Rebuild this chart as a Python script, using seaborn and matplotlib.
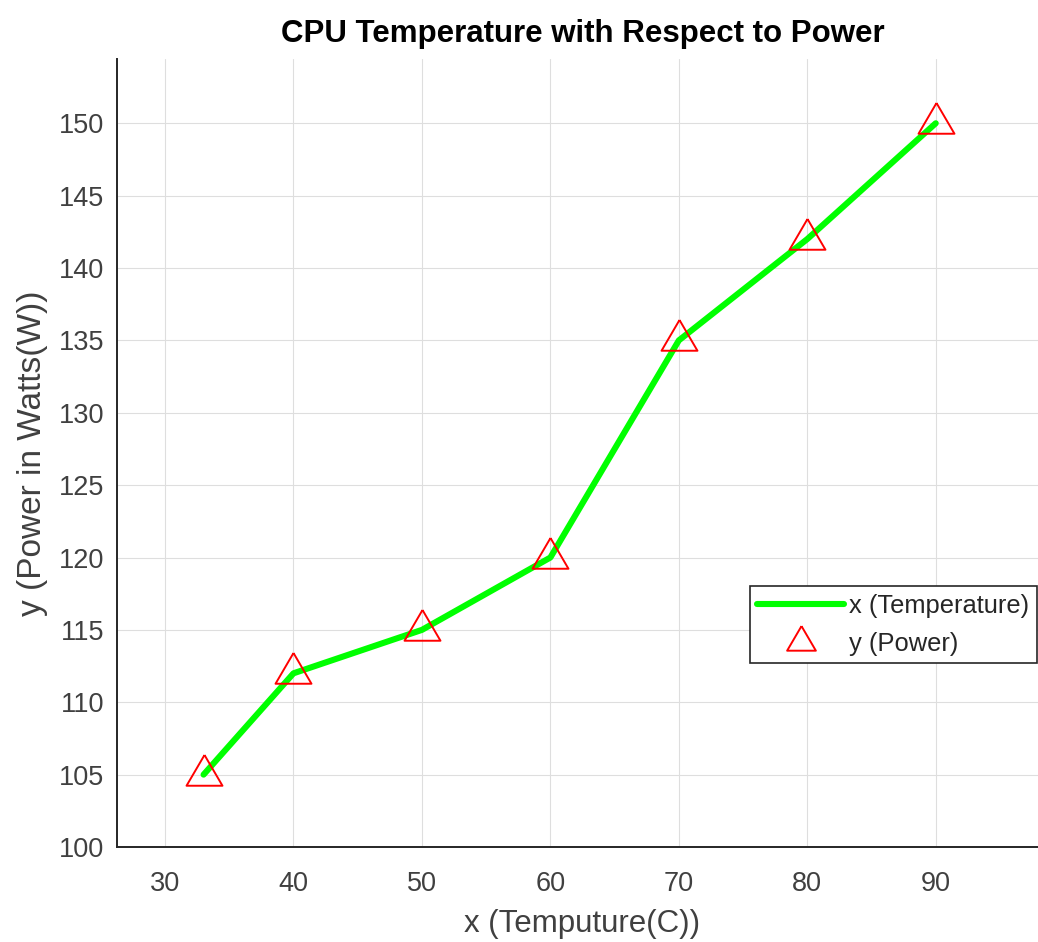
import matplotlib
matplotlib.use("Agg")
import matplotlib.pyplot as plt
import seaborn as sns

# data
temperature = [33, 40, 50, 60, 70, 80, 90]
power = [105, 112, 115, 120, 135, 142, 150]
x_ticks = [30, 40, 50, 60, 70, 80, 90]
y_ticks = [100, 105, 110, 115, 120, 125, 130, 135, 140, 145, 150]

sns.set_style("white")
plt.rcParams['font.family'] = ['Liberation Sans', 'DejaVu Sans']

fig = plt.figure(figsize=(10.38, 9.42), dpi=100)
ax = fig.add_axes([117 / 1038, 1 - 847 / 942, (1048 - 117) / 1038, (847 - 59) / 942])

# MATLAB-ish open triangle, a bit flatter than matplotlib's '^'
tri = [(0, 1.14), (-1, -0.57), (1, -0.57), (0, 1.14)]

sns.lineplot(x=temperature, y=power, color=(0, 1, 0), lw=4.4,
             label='x (Temperature)', ax=ax, zorder=2)
sns.lineplot(x=temperature, y=power, linestyle='none', marker=tri,
             markersize=29.5, mfc='none', mec='red', mew=1.4,
             label='y (Power)', ax=ax, zorder=3)

ax.set_xlim(26.26, 98.74)
ax.set_ylim(100, 154.44)
ax.set_xticks(x_ticks)
ax.set_yticks(y_ticks)

ax.grid(True, color='#dedede', lw=0.8)
ax.set_axisbelow(True)
for s in ['top', 'right']:
    ax.spines[s].set_visible(False)
for s in ['left', 'bottom']:
    ax.spines[s].set_color('#262626')
    ax.spines[s].set_linewidth(1.4)

ax.tick_params(axis='both', direction='in', length=7, width=1.2,
               color='#262626', labelcolor='#404040', labelsize=19.5)
ax.tick_params(axis='y', pad=9)
ax.tick_params(axis='x', pad=17)

ax.set_xlabel('x (Temputure(C))', fontsize=22.5, color='#404040', labelpad=9)
ax.set_ylabel('y (Power in Watts(W))', fontsize=24, color='#404040', labelpad=8)
ax.set_title('CPU Temperature with Respect to Power', fontsize=22.5,
             fontweight='bold', color='black', pad=12)

leg = ax.legend(loc='upper right', bbox_to_anchor=(1037 / 1038, 1 - 586 / 942),
                bbox_transform=fig.transFigure, borderaxespad=0,
                fontsize=18.4, handlelength=3.4, handletextpad=0.2,
                labelspacing=0.55, borderpad=0.3, markerscale=0.8,
                fancybox=False, framealpha=1, edgecolor='#262626')
leg.get_frame().set_linewidth(1.2)
for t in leg.get_texts():
    t.set_color('#262626')

fig.savefig('out.png', dpi=100)
